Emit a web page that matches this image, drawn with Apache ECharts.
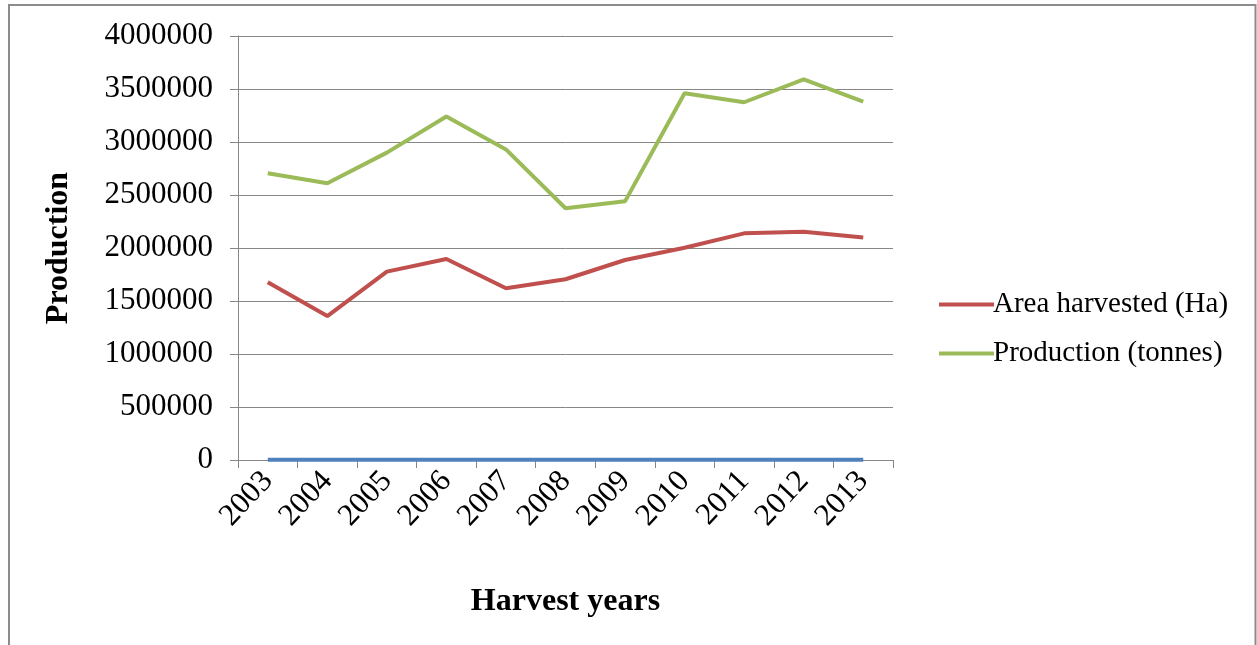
<!DOCTYPE html>
<html>
<head>
<meta charset="utf-8">
<script src="https://cdn.jsdelivr.net/npm/echarts@6/dist/echarts.min.js"></script>
<style>
  html, body { margin: 0; padding: 0; background: #fff; }
  #chart { width: 1257px; height: 645px; }
</style>
</head>
<body>
<div id="chart"></div>
<script>
// harvest years on the x axis
const years = ['2003', '2004', '2005', '2006', '2007', '2008', '2009', '2010', '2011', '2012', '2013'];
// values
const areaHarvested = [1676000, 1358000, 1777000, 1896000, 1620000, 1705000, 1887000, 2003000, 2138000, 2154000, 2100000];
const production = [2705000, 2610000, 2900000, 3240000, 2930000, 2375000, 2440000, 3460000, 3375000, 3590000, 3380000];
// third (unlabelled) series sits on the zero line
const yearSeries = [2003, 2004, 2005, 2006, 2007, 2008, 2009, 2010, 2011, 2012, 2013];
const yTicks = [0, 500000, 1000000, 1500000, 2000000, 2500000, 3000000, 3500000, 4000000];

const font = '"Liberation Serif", "Times New Roman", serif';
const grey = '#868686';

let myChart = echarts.init(document.getElementById('chart'));

let option = {
  animation: false,
  backgroundColor: '#fff',
  textStyle: { fontFamily: font, color: '#000' },
  graphic: [{
    type: 'polyline',
    shape: { points: [[9, 700], [9, 5], [1255.5, 5], [1255.5, 700]] },
    style: { stroke: '#8c8c8c', lineWidth: 2, fill: null },
    silent: true
  }],
  grid: { left: 238, top: 36, right: 364, bottom: 185, containLabel: false },
  legend: {
    orient: 'vertical',
    left: 934,
    top: 285,
    itemWidth: 55,
    itemHeight: 4,
    itemGap: 20,
    icon: 'rect',
    data: ['Area harvested (Ha)', 'Production (tonnes)'],
    textStyle: { fontFamily: font, fontSize: 29, color: '#000', padding: [0, 0, 0, -6] }
  },
  xAxis: {
    type: 'category',
    data: years,
    boundaryGap: true,
    name: 'Harvest years',
    nameLocation: 'middle',
    nameGap: 126,
    nameTextStyle: { fontFamily: font, fontSize: 32, fontWeight: 'bold', color: '#000' },
    axisLine: { show: true, lineStyle: { color: grey, width: 1 } },
    axisTick: { show: true, length: 8, alignWithLabel: false, lineStyle: { color: grey } },
    axisLabel: { rotate: 47, margin: 16, fontSize: 31, color: '#000', fontFamily: font, interval: 0 },
    splitLine: { show: false }
  },
  yAxis: {
    type: 'value',
    min: 0,
    max: 4000000,
    interval: 500000,
    name: 'Production',
    nameLocation: 'middle',
    nameGap: 163,
    nameRotate: 90,
    nameTextStyle: { fontFamily: font, fontSize: 32, fontWeight: 'bold', color: '#000' },
    axisLine: { show: true, lineStyle: { color: grey, width: 1 } },
    axisTick: { show: true, length: 8, lineStyle: { color: grey } },
    axisLabel: {
      margin: 25,
      fontSize: 31,
      color: '#000',
      fontFamily: font,
      formatter: function (v) { return yTicks.indexOf(v) >= 0 ? String(v) : ''; }
    },
    splitLine: { show: true, lineStyle: { color: grey, width: 1 } }
  },
  series: [
    {
      name: 'Years',
      type: 'line',
      data: yearSeries,
      symbol: 'none',
      lineStyle: { color: '#4F81BD', width: 4 },
      itemStyle: { color: '#4F81BD' }
    },
    {
      name: 'Area harvested (Ha)',
      type: 'line',
      data: areaHarvested,
      symbol: 'none',
      lineStyle: { color: '#C0504D', width: 4 },
      itemStyle: { color: '#C0504D' }
    },
    {
      name: 'Production (tonnes)',
      type: 'line',
      data: production,
      symbol: 'none',
      lineStyle: { color: '#9BBB59', width: 4 },
      itemStyle: { color: '#9BBB59' }
    }
  ]
};

myChart.setOption(option);
window.addEventListener('resize', () => {
  myChart.resize();
});
</script>
</body>
</html>
